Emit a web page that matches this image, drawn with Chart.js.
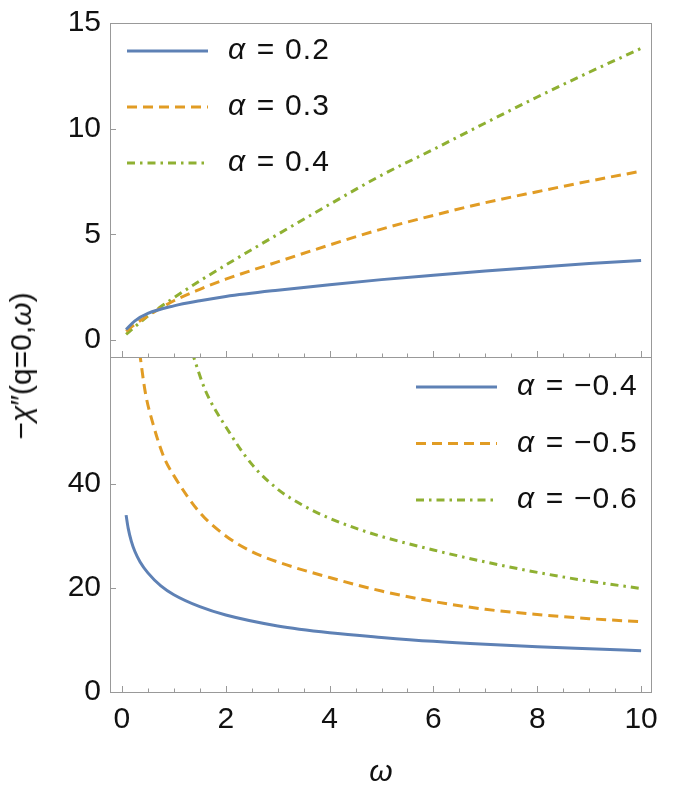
<!DOCTYPE html>
<html>
<head>
    <title>Susceptibility vs frequency</title>
    <script src="https://cdn.jsdelivr.net/npm/chart.js@4.4.0/dist/chart.umd.min.js"></script>
    <style>
        body {
            margin: 0;
            background: white;
            font-family: 'Liberation Sans', Arial, sans-serif;
        }
        .wrap {
            position: relative;
            width: 673px;
            height: 800px;
            background: white;
            overflow: hidden;
        }
        canvas {
            position: absolute;
            left: 0;
        }
        .ytitle {
            position: absolute;
            left: 21px;
            top: 366px;
            transform: translate(-50%, -50%) rotate(-90deg);
            white-space: nowrap;
            font-size: 30px;
            color: #111;
        }
        .ytitle i { font-style: italic; }
    </style>
</head>
<body>
<div class="wrap">
    <canvas id="top" width="673" height="360" style="top:0"></canvas>
    <canvas id="bottom" width="673" height="460" style="top:340px"></canvas>
    <div class="ytitle">−<i>χ</i>″(q=0,<i>ω</i>)</div>
</div>

<script>
    // upper panel (alpha > 0)
    const omegaTop = [0.08, 0.25, 0.5, 1, 1.5, 2, 3, 4, 5, 6, 7, 8, 9, 10];
    const chiA02 = [0.5, 0.91, 1.26, 1.62, 1.86, 2.06, 2.36, 2.62, 2.86, 3.07, 3.27, 3.45, 3.62, 3.77];
    const chiA03 = [0.42, 0.75, 1.15, 1.86, 2.4, 2.88, 3.7, 4.5, 5.25, 5.9, 6.5, 7.02, 7.52, 7.99];
    const chiA04 = [0.27, 0.63, 1.14, 2.0, 2.8, 3.55, 5.0, 6.42, 7.8, 9.02, 10.27, 11.5, 12.67, 13.8];

    // lower panel (alpha < 0)
    const omegaM04 = [0.08, 0.12, 0.18, 0.25, 0.35, 0.5, 0.75, 1, 1.5, 2, 3, 4, 5, 6, 7, 8, 9, 10];
    const chiM04 = [34.0, 31.5, 29.0, 27.0, 25.0, 22.9, 20.4, 18.7, 16.4, 14.8, 12.7, 11.4, 10.5, 9.74, 9.17, 8.72, 8.33, 7.95];
    const omegaM05 = [0.34, 0.45, 0.6, 0.81, 1, 1.5, 2, 2.5, 3, 4, 5, 6, 7, 8, 9, 10];
    const chiM05 = [65.3, 57.6, 51.5, 45.1, 41.6, 34.5, 30.0, 27.0, 25.0, 22.0, 19.4, 17.4, 15.9, 14.9, 14.1, 13.5];
    const omegaM06 = [1.35, 1.61, 2, 2.5, 3, 3.5, 4, 4.5, 5, 6, 7, 8, 9, 10];
    const chiM06 = [65.3, 57.9, 51.0, 43.8, 39.0, 35.8, 33.4, 31.5, 29.9, 27.3, 25.0, 23.0, 21.3, 19.9];

    const xTicks = [0, 2, 4, 6, 8, 10];
    const yTicksTop = [0, 5, 10, 15];
    const yTicksBottom = [0, 20, 40];

    const BLUE = '#5e81b5';
    const ORANGE = '#e19c24';
    const GREEN = '#8fb032';
    const FRAME = '#999999';
    const FONT = "'Liberation Sans', Arial, sans-serif";

    const pts = (xs, ys) => xs.map((x, i) => ({ x: x, y: ys[i] }));

    const series = (label, xs, ys, color, dash) => ({
        label: label,
        data: pts(xs, ys),
        borderColor: color,
        borderWidth: 3,
        borderDash: dash,
        borderCapStyle: 'butt',
        pointRadius: 0,
        cubicInterpolationMode: 'monotone',
        clip: 0,
        fill: false
    });

    // frame with inward tick marks, like the original plot
    const frameTicks = {
        id: 'frameTicks',
        afterDraw(chart) {
            const { ctx, chartArea: a, scales } = chart;
            ctx.save();
            ctx.strokeStyle = FRAME;
            ctx.lineWidth = 1;
            ctx.strokeRect(a.left + 0.5, a.top + 0.5, a.right - a.left - 1, a.bottom - a.top);
            ctx.beginPath();
            scales.y.ticks.forEach(t => {
                const py = Math.round(scales.y.getPixelForValue(t.value)) + 0.5;
                ctx.moveTo(a.left, py);
                ctx.lineTo(a.left + 6, py);
            });
            for (let v = 0; v <= 10; v += 0.5) {
                const px = Math.round(scales.x.getPixelForValue(v)) + 0.5;
                const len = v % 2 === 0 ? 6 : 3.5;
                ctx.moveTo(px, a.bottom);
                ctx.lineTo(px, a.bottom - len);
            }
            ctx.stroke();
            ctx.restore();
        }
    };

    // legend drawn inside the plot area
    const innerLegend = {
        id: 'innerLegend',
        afterDraw(chart, args, opts) {
            const { ctx, chartArea: a } = chart;
            ctx.save();
            chart.data.datasets.forEach((ds, i) => {
                const yy = a.top + opts.y + i * opts.gap;
                const x0 = a.left + opts.x;
                ctx.strokeStyle = ds.borderColor;
                ctx.lineWidth = ds.borderWidth;
                ctx.setLineDash(ds.borderDash || []);
                ctx.beginPath();
                ctx.moveTo(x0, yy);
                ctx.lineTo(x0 + 81, yy);
                ctx.stroke();
                ctx.setLineDash([]);

                const tx = x0 + 101;
                ctx.fillStyle = '#111';
                ctx.textBaseline = 'middle';
                ctx.textAlign = 'left';
                ctx.font = 'italic 30px ' + FONT;
                ctx.fillText(ds.label[0], tx, yy);
                const w = ctx.measureText(ds.label[0]).width;
                ctx.font = '30px ' + FONT;
                ctx.letterSpacing = '1.2px';
                ctx.fillText(ds.label.slice(1), tx + w + 2, yy);
                ctx.letterSpacing = '0px';
            });
            ctx.restore();
        }
    };

    // drop the extra room chart.js keeps for overhanging tick labels
    const noOverhang = s => {
        s.paddingTop = 0;
        s.paddingBottom = 0;
        s.paddingLeft = 0;
        s.paddingRight = 0;
    };

    const makeChart = (id, datasets, yMin, yMax, yTicks, bottomAxis, padding, legendPos) => {
        const ctx = document.getElementById(id).getContext('2d');
        return new Chart(ctx, {
            type: 'line',
            data: { datasets: datasets },
            plugins: [frameTicks, innerLegend],
            options: {
                responsive: false,
                animation: false,
                devicePixelRatio: 1,
                layout: { padding: padding },
                plugins: {
                    legend: { display: false },
                    tooltip: { enabled: false },
                    innerLegend: legendPos
                },
                scales: {
                    x: {
                        type: 'linear',
                        min: -0.23,
                        max: 10.21,
                        display: bottomAxis,
                        grid: { display: false, drawTicks: false },
                        border: { display: false },
                        afterBuildTicks: s => { s.ticks = xTicks.map(v => ({ value: v })); },
                        afterFit: s => { s.height = bottomAxis ? 108 : 0; noOverhang(s); },
                        ticks: {
                            color: '#111',
                            padding: 10,
                            maxRotation: 0,
                            autoSkip: false,
                            font: { family: FONT, size: 30 }
                        },
                        title: {
                            display: bottomAxis,
                            text: 'ω',
                            color: '#111',
                            padding: { top: 0, bottom: 9 },
                            font: { family: FONT, size: 30, style: 'italic' }
                        }
                    },
                    y: {
                        min: yMin,
                        max: yMax,
                        grid: { display: false, drawTicks: false },
                        border: { display: false },
                        afterBuildTicks: s => { s.ticks = yTicks.map(v => ({ value: v })); },
                        afterFit: s => { s.width = 110; noOverhang(s); },
                        ticks: {
                            color: '#111',
                            padding: 9,
                            font: { family: FONT, size: 30 }
                        }
                    }
                }
            }
        });
    };

    makeChart('top', [
        series('α = 0.2', omegaTop, chiA02, BLUE, []),
        series('α = 0.3', omegaTop, chiA03, ORANGE, [10, 6]),
        series('α = 0.4', omegaTop, chiA04, GREEN, [8, 5, 2.5, 5])
    ], -0.8, 15, yTicksTop, false,
        { top: 23, right: 21, bottom: 3, left: 0 },
        { x: 17, y: 28, gap: 56 });

    makeChart('bottom', [
        series('α = −0.4', omegaM04, chiM04, BLUE, []),
        series('α = −0.5', omegaM05, chiM05, ORANGE, [10, 6]),
        series('α = −0.6', omegaM06, chiM06, GREEN, [8, 5, 2.5, 5])
    ], 0, 64.4, yTicksBottom, true,
        { top: 17, right: 21, bottom: 0, left: 0 },
        { x: 306, y: 30, gap: 56.5 });
</script>
</body>
</html>
